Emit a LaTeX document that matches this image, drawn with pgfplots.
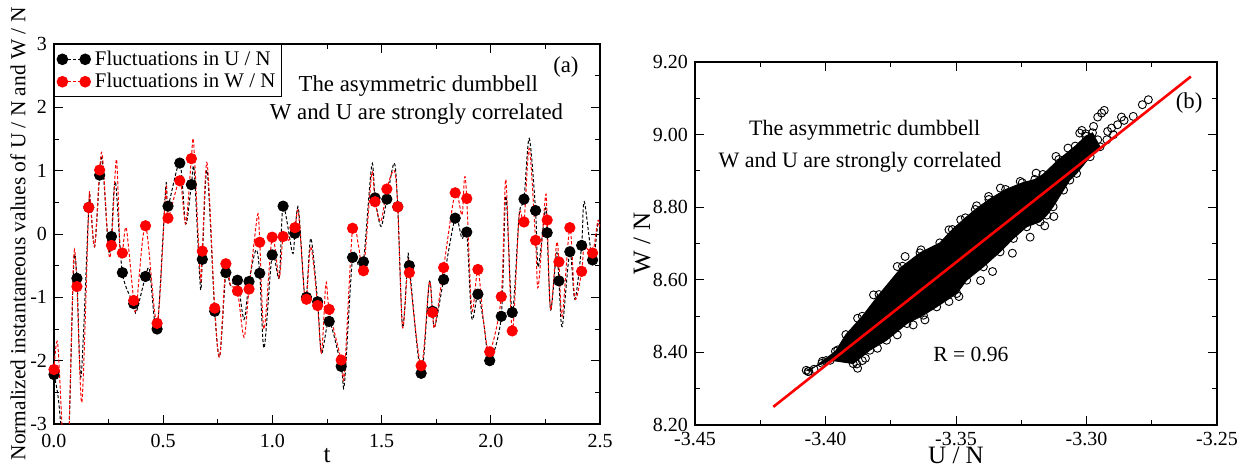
\documentclass[border=0pt]{standalone}
\usepackage{pgfplots}
\pgfplotsset{compat=1.18}
\usepackage{fontspec}
\setmainfont{Liberation Serif}
\definecolor{pred}{RGB}{255,0,0}
\pgfplotsset{
  common/.style={
    scale only axis, anchor=south west,
    tick align=inside, minor tick num=1,
    major tick length=4.5pt, minor tick length=2.5pt,
    every tick/.style={black, line width=0.5pt},
    axis line style={line width=0.8pt},
    tick label style={font=\fontsize{10}{12}\selectfont},
    /pgf/number format/assume math mode=true,
    clip mode=individual,
  }
}
\begin{document}
\begin{tikzpicture}
\path[use as bounding box] (0,0) rectangle (619pt,233.5pt);
% ---------------- panel (a)
\begin{axis}[common,
  at={(27pt,21.5pt)}, width=273pt, height=190pt,
  xmin=0, xmax=2.5, ymin=-3, ymax=3,
  xtick={0,0.5,1,1.5,2,2.5}, ytick={-3,-2,-1,0,1,2,3},
  xticklabel style={/pgf/number format/fixed, /pgf/number format/fixed zerofill, /pgf/number format/precision=1, yshift=-1.7pt},
  xlabel={t},
  ylabel={Normalized instantaneous values of U / N and W / N},
  xlabel style={font=\fontsize{12.5}{14}\selectfont, at={(axis description cs:0.5,0)}, anchor=base, yshift=-19.3pt},
  ylabel style={font=\fontsize{10.7}{12}\selectfont, at={(axis description cs:-0.066,0.5)}, anchor=center},
  legend style={at={(0,1)}, anchor=north west, draw=black, line width=0.6pt,
    font=\fontsize{10.4}{11}\selectfont, inner xsep=1pt, inner ysep=1pt, row sep=-1.5pt},
  legend cell align=left,
]
\addlegendimage{legend image code/.code={
  \draw[black, line width=0.5pt, dash pattern=on 1.6pt off 1pt] (0pt,0pt) -- (11.4pt,0pt);
  \fill[black] (0pt,0pt) circle (2.6pt); \fill[black] (11.4pt,0pt) circle (2.6pt);}}
\addlegendentry{Fluctuations in U / N}
\addlegendimage{legend image code/.code={
  \draw[pred, line width=0.5pt, dash pattern=on 1.6pt off 1pt] (0pt,0pt) -- (11.4pt,0pt);
  \fill[pred] (0pt,0pt) circle (2.6pt); \fill[pred] (11.4pt,0pt) circle (2.6pt);}}
\addlegendentry{Fluctuations in W / N}

\addplot[forget plot, black, line width=0.5pt, dash pattern=on 1.6pt off 1pt, smooth, tension=0.5] coordinates {
(0.000,-2.22) (0.020,-2.6) (0.045,-3.5) (0.065,-3.5) (0.090,-0.50) (0.105,-0.70) (0.124,-2.25)
(0.159,0.42) (0.166,0.52) (0.186,-0.20) (0.209,0.93) (0.222,1.14) (0.250,-0.25) (0.263,-0.04)
(0.281,0.83) (0.313,-0.61) (0.365,-1.10) (0.377,-1.23) (0.419,-0.67) (0.438,-0.58) (0.472,-1.50)
(0.512,0.75) (0.522,0.44) (0.576,1.12) (0.603,0.16) (0.629,0.78) (0.642,1.00) (0.670,-0.83)
(0.679,-0.40) (0.701,1.00) (0.736,-1.22) (0.759,-1.93) (0.787,-0.61) (0.808,-0.81) (0.840,-0.73)
(0.870,-1.35) (0.893,-0.75) (0.925,-0.25) (0.942,-0.62) (0.962,-1.80) (0.999,-0.33) (1.031,-0.69)
(1.049,0.44) (1.092,-0.30) (1.103,0.01) (1.119,0.41) (1.145,-0.88) (1.156,-1.00) (1.176,-0.07)
(1.207,-1.07) (1.225,-1.88) (1.260,-1.38) (1.315,-2.09) (1.330,-2.36) (1.367,-0.37) (1.395,-0.50)
(1.417,-0.44) (1.455,1.09) (1.470,0.57) (1.497,0.12) (1.524,0.55) (1.558,1.12) (1.574,0.43)
(1.596,-1.47) (1.620,-0.38) (1.627,-0.50) (1.681,-2.20) (1.718,-0.77) (1.733,-1.22) (1.744,-1.46)
(1.784,-0.72) (1.837,0.25) (1.868,-0.07) (1.890,0.03) (1.913,-1.33) (1.941,-0.95) (1.967,-1.39)
(1.995,-2.00) (2.048,-1.30) (2.069,0.60) (2.098,-1.24) (2.130,0.30) (2.152,0.55) (2.176,1.51)
(2.205,0.37) (2.217,-0.52) (2.250,0.40) (2.258,0.02) (2.274,-1.20) (2.301,-0.30) (2.312,-0.74)
(2.327,-1.46) (2.362,-0.28) (2.385,-1.03) (2.416,-0.18) (2.428,0.51) (2.466,-0.41) (2.490,0.15)
(2.500,0.10)};
\addplot[forget plot, pred, line width=0.5pt, dash pattern=on 1.6pt off 1pt, smooth, tension=0.5] coordinates {
(0.000,-2.14) (0.017,-1.73) (0.045,-3.5) (0.065,-3.5) (0.090,-0.38) (0.105,-0.83) (0.128,-2.65)
(0.159,0.42) (0.166,0.52) (0.186,-0.20) (0.209,1.01) (0.222,1.22) (0.250,-0.27) (0.263,-0.18)
(0.286,1.18) (0.302,-0.27) (0.313,-0.30) (0.331,0.09) (0.365,-1.05) (0.377,-1.15) (0.419,0.13)
(0.472,-1.41) (0.512,0.70) (0.522,0.25) (0.576,0.84) (0.603,0.16) (0.629,1.19) (0.640,1.41)
(0.670,-0.67) (0.679,-0.27) (0.701,1.12) (0.736,-1.17) (0.759,-1.93) (0.787,-0.47) (0.808,-0.81)
(0.840,-0.90) (0.870,-1.63) (0.893,-0.87) (0.932,0.30) (0.942,-0.13) (0.962,-1.50) (0.999,-0.05)
(1.031,-0.69) (1.049,-0.04) (1.075,-0.10) (1.103,0.10) (1.119,0.35) (1.145,-0.88) (1.156,-1.03)
(1.176,-0.20) (1.207,-1.13) (1.225,-1.88) (1.245,-0.78) (1.260,-1.19) (1.315,-1.99) (1.330,-2.20)
(1.367,0.09) (1.395,-0.20) (1.417,-0.58) (1.455,0.95) (1.470,0.51) (1.497,0.20) (1.524,0.71)
(1.558,1.00) (1.574,0.43) (1.596,-1.47) (1.620,-0.45) (1.627,-0.61) (1.681,-2.08) (1.718,-0.77)
(1.733,-1.24) (1.744,-1.46) (1.784,-0.53) (1.837,0.65) (1.868,0.30) (1.880,0.90) (1.890,0.56)
(1.913,-1.20) (1.941,-0.56) (1.967,-1.39) (1.995,-1.86) (2.048,-0.99) (2.069,0.86) (2.098,-1.53)
(2.130,0.30) (2.152,0.19) (2.176,1.35) (2.205,-0.10) (2.217,-0.84) (2.250,0.59) (2.258,0.22)
(2.274,-1.20) (2.301,-0.15) (2.312,-0.44) (2.327,-1.30) (2.362,0.10) (2.385,-1.02) (2.416,-0.59)
(2.428,-0.20) (2.466,-0.30) (2.490,0.21) (2.500,0.10)};
\addplot[forget plot, only marks, mark=*, mark size=2.6pt, mark options={draw=black, fill=black}] coordinates {
(0.000,-2.22) (0.105,-0.70) (0.159,0.42) (0.209,0.93) (0.263,-0.04) (0.313,-0.61) (0.365,-1.10)
(0.419,-0.67) (0.472,-1.50) (0.522,0.44) (0.576,1.12) (0.629,0.78) (0.679,-0.40) (0.736,-1.22)
(0.787,-0.61) (0.840,-0.73) (0.893,-0.75) (0.942,-0.62) (0.999,-0.33) (1.049,0.44) (1.103,0.01)
(1.156,-1.00) (1.207,-1.07) (1.260,-1.38) (1.315,-2.09) (1.367,-0.37) (1.417,-0.44) (1.470,0.57)
(1.524,0.55) (1.574,0.43) (1.627,-0.50) (1.681,-2.20) (1.733,-1.22) (1.784,-0.72) (1.837,0.25)
(1.890,0.03) (1.941,-0.95) (1.995,-2.00) (2.048,-1.30) (2.098,-1.24) (2.152,0.55) (2.205,0.37)
(2.258,0.02) (2.312,-0.74) (2.362,-0.28) (2.416,-0.18) (2.466,-0.41)};
\addplot[forget plot, only marks, mark=*, mark size=2.6pt, mark options={draw=pred, fill=pred}] coordinates {
(0.000,-2.14) (0.105,-0.83) (0.159,0.42) (0.209,1.01) (0.263,-0.18) (0.313,-0.30) (0.365,-1.05)
(0.419,0.13) (0.472,-1.41) (0.522,0.25) (0.576,0.84) (0.629,1.19) (0.679,-0.27) (0.736,-1.17)
(0.787,-0.47) (0.840,-0.90) (0.893,-0.87) (0.942,-0.13) (0.999,-0.05) (1.049,-0.04) (1.103,0.10)
(1.156,-1.03) (1.207,-1.13) (1.260,-1.19) (1.315,-1.99) (1.367,0.09) (1.417,-0.58) (1.470,0.51)
(1.524,0.71) (1.574,0.43) (1.627,-0.61) (1.681,-2.08) (1.733,-1.24) (1.784,-0.53) (1.837,0.65)
(1.890,0.56) (1.941,-0.56) (1.995,-1.86) (2.048,-0.99) (2.098,-1.53) (2.152,0.19) (2.205,-0.10)
(2.258,0.22) (2.312,-0.44) (2.362,0.10) (2.416,-0.59) (2.466,-0.30)};
\node[font=\fontsize{11.4}{13}\selectfont] at (axis cs:2.344,2.64) {(a)};
\node[font=\fontsize{11.4}{13}\selectfont] at (axis cs:1.668,2.34) {The asymmetric dumbbell};
\node[font=\fontsize{11.4}{13}\selectfont] at (axis cs:1.660,1.895) {W and U are strongly correlated};
\end{axis}
% ---------------- panel (b)
\begin{axis}[common,
  at={(347.5pt,21pt)}, width=261pt, height=181.5pt,
  xmin=-3.45, xmax=-3.25, ymin=8.2, ymax=9.2,
  xtick={-3.45,-3.4,-3.35,-3.3,-3.25}, ytick={8.2,8.4,8.6,8.8,9.0,9.2},
  xticklabel style={/pgf/number format/fixed, /pgf/number format/fixed zerofill, /pgf/number format/precision=2},
  yticklabel style={/pgf/number format/fixed, /pgf/number format/fixed zerofill, /pgf/number format/precision=2},
  xlabel={U / N}, ylabel={W / N},
  xlabel style={font=\fontsize{12.5}{14}\selectfont, at={(axis description cs:0.5,0)}, anchor=base, yshift=-19.3pt},
  ylabel style={font=\fontsize{12.5}{14}\selectfont, at={(axis description cs:-0.1015,0.5)}, anchor=center},
  scaled ticks=false,
]
\addplot[fill=black, draw=black, line width=0.4pt] coordinates {
(-3.4064,8.3480) (-3.4012,8.3756) (-3.3962,8.4031) (-3.3922,8.4491) (-3.3859,8.4996) (-3.3795,8.5594)
(-3.3705,8.6375) (-3.3638,8.6743) (-3.3562,8.7018) (-3.3514,8.7386) (-3.3464,8.7708) (-3.3426,8.7938)
(-3.3374,8.8213) (-3.3310,8.8489) (-3.3246,8.8673) (-3.3198,8.8765) (-3.3167,8.8903) (-3.3106,8.9316)
(-3.3043,8.9684) (-3.3003,8.9960) (-3.2977,9.0051) (-3.2948,8.9665) (-3.2986,8.9390) (-3.3038,8.8930)
(-3.3064,8.8746) (-3.3088,8.8471) (-3.3128,8.8011) (-3.3152,8.7781) (-3.3178,8.7597) (-3.3229,8.7460)
(-3.3280,8.7138) (-3.3331,8.6770) (-3.3395,8.6357) (-3.3459,8.5989) (-3.3497,8.5621) (-3.3574,8.5254)
(-3.3625,8.5024) (-3.3688,8.4794) (-3.3766,8.4335) (-3.3830,8.4059) (-3.3894,8.3691) (-3.3982,8.3783)
(-3.4074,8.3507)};
\addplot[only marks, mark=o, mark size=2pt, mark options={draw=black, line width=0.45pt}] coordinates {
(-3.4064,8.3480) (-3.4012,8.3756) (-3.3962,8.4031) (-3.3922,8.4491) (-3.3859,8.4996) (-3.3795,8.5594)
(-3.3705,8.6375) (-3.3638,8.6743) (-3.3562,8.7018) (-3.3514,8.7386) (-3.3464,8.7708) (-3.3426,8.7938)
(-3.3374,8.8213) (-3.3310,8.8489) (-3.3246,8.8673) (-3.3198,8.8765) (-3.3167,8.8903) (-3.3106,8.9316)
(-3.3043,8.9684) (-3.3003,8.9960) (-3.2977,9.0051) (-3.2948,8.9665) (-3.2986,8.9390) (-3.3038,8.8930)
(-3.3064,8.8746) (-3.3088,8.8471) (-3.3128,8.8011) (-3.3152,8.7781) (-3.3178,8.7597) (-3.3229,8.7460)
(-3.3280,8.7138) (-3.3331,8.6770) (-3.3395,8.6357) (-3.3459,8.5989) (-3.3497,8.5621) (-3.3574,8.5254)
(-3.3625,8.5024) (-3.3688,8.4794) (-3.3766,8.4335) (-3.3830,8.4059) (-3.3894,8.3691) (-3.3982,8.3783)
(-3.4074,8.3507)
(-3.4067,8.3471) (-3.4044,8.3535) (-3.4014,8.3700) (-3.3998,8.3774) (-3.3953,8.4068) (-3.3880,8.3682)
(-3.3877,8.3563) (-3.3859,8.3774) (-3.3938,8.3884) (-3.3903,8.3976)
(-3.3018,9.0116) (-3.3003,9.0024) (-3.2973,9.0226) (-3.2957,9.0483) (-3.2942,9.0594) (-3.2932,9.0667)
(-3.2919,9.0088) (-3.2904,9.0180) (-3.2866,9.0483) (-3.2856,9.0392) (-3.2821,9.0502) (-3.2786,9.0824)
(-3.2763,9.0961) (-3.2897,8.9996) (-3.2922,8.9858) (-3.2957,8.9858) (-3.2881,9.0272)
(-3.3125,8.7744) (-3.3160,8.7487) (-3.3216,8.7175) (-3.3284,8.6733) (-3.3360,8.6228) (-3.3406,8.5980)
(-3.3489,8.5539) (-3.3527,8.5401) (-3.3619,8.4895) (-3.3664,8.4757) (-3.3725,8.4482) (-3.3801,8.4114)
(-3.3847,8.3838)
(-3.3877,8.4941) (-3.3816,8.5585) (-3.3725,8.6366) (-3.3695,8.6642) (-3.3634,8.6825) (-3.3527,8.7377)
(-3.3482,8.7653) (-3.3421,8.8039) (-3.3375,8.8296) (-3.3330,8.8526) (-3.3254,8.8710) (-3.3193,8.8939)
(-3.3117,8.9399) (-3.3071,8.9629) (-3.3026,9.0042)};
\addplot[pred, line width=1.3pt] coordinates {(-3.42,8.25) (-3.26,9.16)};
\node[font=\fontsize{11.4}{13}\selectfont] at (axis cs:-3.2607,9.087) {(b)};
\node[font=\fontsize{11}{13}\selectfont] at (axis cs:-3.385,9.0127) {The asymmetric dumbbell};
\node[font=\fontsize{11}{13}\selectfont] at (axis cs:-3.3868,8.9245) {W and U are strongly correlated};
\node[font=\fontsize{10.8}{13}\selectfont] at (axis cs:-3.3443,8.393) {R = 0.96};
\end{axis}
\end{tikzpicture}
\end{document}
